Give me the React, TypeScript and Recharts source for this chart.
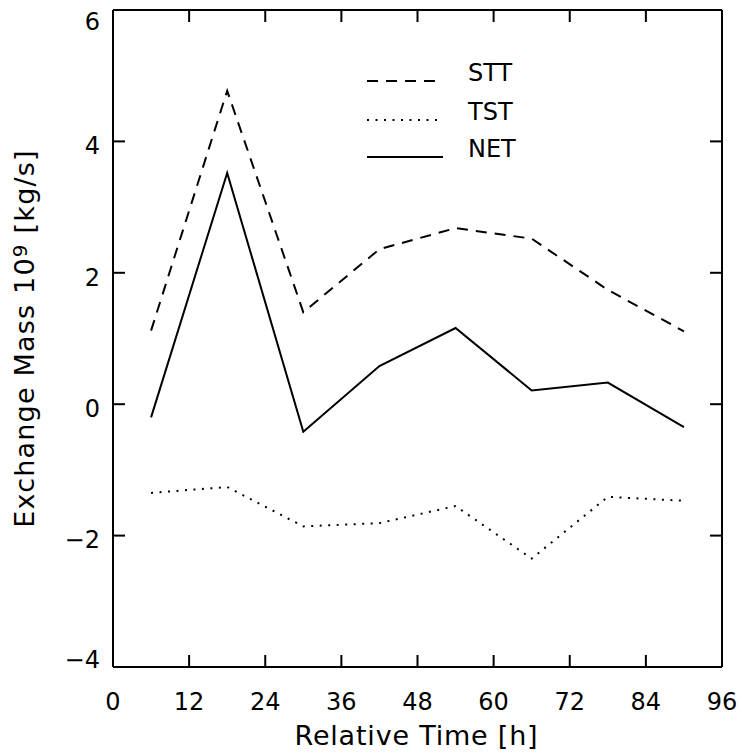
import React from 'react';
import { LineChart, Line, XAxis, YAxis, Legend } from 'recharts';

// ---- data ----
const hours = [6, 18, 30, 42, 54, 66, 78, 90];
const sttValues = [1.12, 4.77, 1.4, 2.36, 2.68, 2.52, 1.74, 1.11];
const tstValues = [-1.35, -1.26, -1.86, -1.81, -1.55, -2.35, -1.41, -1.47];
const netValues = [-0.2, 3.52, -0.42, 0.58, 1.16, 0.21, 0.33, -0.35];
const xTicks = [0, 12, 24, 36, 48, 60, 72, 84, 96];
const yTicks = [-4, -2, 0, 2, 4, 6];
const seriesNames = ['STT', 'TST', 'NET'];
const xTitle = 'Relative Time [h]';

// ---- styles ----
const FONT = '"DejaVu Sans", sans-serif';
const W = 741;
const H = 753;
const TICK_LEN = 12;
const seriesStyle: Record<string, { dash?: string }> = {
  STT: { dash: '11 8' },
  TST: { dash: '2 6.5' },
  NET: {},
};

const tableData = hours.map((t, i) => ({
  t,
  STT: sttValues[i],
  TST: tstValues[i],
  NET: netValues[i],
}));

const fmt = (v: number) => (v < 0 ? '\u2212' + Math.abs(v) : String(v));

const BottomTick = (props: any) => {
  const { x, y, payload } = props;
  return (
    <g>
      <line x1={x} y1={y} x2={x} y2={y - TICK_LEN} stroke="#000" strokeWidth={2} />
      <text x={x} y={y + 43} textAnchor="middle" fontSize={24} fontFamily={FONT} fill="#000">
        {fmt(payload.value)}
      </text>
    </g>
  );
};

const TopTick = (props: any) => {
  const { x, y } = props;
  return <line x1={x} y1={y} x2={x} y2={y + TICK_LEN} stroke="#000" strokeWidth={2} />;
};

const LeftTick = (props: any) => {
  const { x, y, payload } = props;
  const v = payload.value;
  let c = y + 4;
  if (v === yTicks[yTicks.length - 1]) c = y + 11;
  if (v === yTicks[0]) c = y - 8;
  return (
    <g>
      <line x1={x} y1={y} x2={x + TICK_LEN} y2={y} stroke="#000" strokeWidth={2} />
      <text x={x - 13} y={c + 8.7} textAnchor="end" fontSize={24} fontFamily={FONT} fill="#000">
        {fmt(v)}
      </text>
    </g>
  );
};

const RightTick = (props: any) => {
  const { x, y } = props;
  return <line x1={x} y1={y} x2={x - TICK_LEN} y2={y} stroke="#000" strokeWidth={2} />;
};

const YTitle = (props: any) => {
  const vb = props.viewBox || {};
  const cy = (vb.y ?? 10) + (vb.height ?? 657) / 2;
  const x = 34;
  return (
    <text
      x={x}
      y={cy}
      transform={`rotate(-90, ${x}, ${cy})`}
      textAnchor="middle"
      fontSize={27}
      fontFamily={FONT}
      letterSpacing={1.2}
      fill="#000"
    >
      <tspan>Exchange Mass 10</tspan>
      <tspan fontSize={20} dy={-7}>9</tspan>
      <tspan dy={7}> [kg/s]</tspan>
    </text>
  );
};

const XTitle = (props: any) => {
  const vb = props.viewBox || {};
  const cx = (vb.x ?? 113) + (vb.width ?? 609) / 2 - 1;
  return (
    <text x={cx} y={745} textAnchor="middle" fontSize={27} fontFamily={FONT} letterSpacing={0.8} fill="#000">
      {xTitle}
    </text>
  );
};

const LegendContent = () => {
  const rowY = [81, 120, 157];
  return (
    <div style={{ position: 'relative', width: 0, height: 0 }}>
      <svg width={W} height={200} style={{ position: 'absolute', left: 0, top: 0, overflow: 'visible' }}>
        {seriesNames.map((name, i) => {
          const st = seriesStyle[name] || {};
          return (
            <g key={name}>
              <line
                x1={367}
                x2={443}
                y1={rowY[i]}
                y2={rowY[i]}
                stroke="#000"
                strokeWidth={2}
                strokeDasharray={st.dash}
              />
              <text x={468} y={rowY[i]} fontSize={24} fontFamily={FONT} fill="#000">
                {name}
              </text>
            </g>
          );
        })}
      </svg>
    </div>
  );
};

export default function App() {
  return (
    <div style={{ position: 'absolute', left: 0, top: 0, width: W, height: H, background: '#fff' }}>
      <LineChart
        width={W}
        height={H}
        data={tableData}
        margin={{ top: 9, right: 18, bottom: 0, left: 0 }}
      >
        <XAxis
          dataKey="t"
          type="number"
          domain={[0, 96]}
          ticks={xTicks}
          interval={0}
          height={86}
          tickSize={0}
          tickMargin={0}
          axisLine={{ stroke: '#000', strokeWidth: 2 }}
          tickLine={false}
          tick={<BottomTick />}
          label={<XTitle />}
          allowDataOverflow
        />
        <XAxis
          xAxisId="top"
          orientation="top"
          dataKey="t"
          type="number"
          domain={[0, 96]}
          ticks={xTicks}
          interval={0}
          height={1}
          tickSize={0}
          tickMargin={0}
          axisLine={{ stroke: '#000', strokeWidth: 2 }}
          tickLine={false}
          tick={<TopTick />}
          allowDataOverflow
        />
        <YAxis
          type="number"
          domain={[-4, 6]}
          ticks={yTicks}
          interval={0}
          width={113}
          tickSize={0}
          tickMargin={0}
          axisLine={{ stroke: '#000', strokeWidth: 2 }}
          tickLine={false}
          tick={<LeftTick />}
          label={<YTitle />}
          allowDataOverflow
        />
        <YAxis
          yAxisId="right"
          orientation="right"
          type="number"
          domain={[-4, 6]}
          ticks={yTicks}
          interval={0}
          width={1}
          tickSize={0}
          tickMargin={0}
          axisLine={{ stroke: '#000', strokeWidth: 2 }}
          tickLine={false}
          tick={<RightTick />}
          allowDataOverflow
        />
        <Legend content={<LegendContent />} wrapperStyle={{ position: 'absolute', left: 0, top: 0, width: 0, height: 0 }} />
        {seriesNames.map((name) => (
          <Line
            key={name}
            dataKey={name}
            name={name}
            type="linear"
            stroke="#000"
            strokeWidth={2}
            strokeDasharray={seriesStyle[name].dash}
            dot={false}
            activeDot={false}
            isAnimationActive={false}
            legendType="line"
          />
        ))}
        <Line
          xAxisId="top"
          yAxisId="right"
          dataKey="NET"
          stroke="transparent"
          strokeWidth={0}
          dot={false}
          activeDot={false}
          isAnimationActive={false}
          legendType="none"
        />
      </LineChart>
    </div>
  );
}
